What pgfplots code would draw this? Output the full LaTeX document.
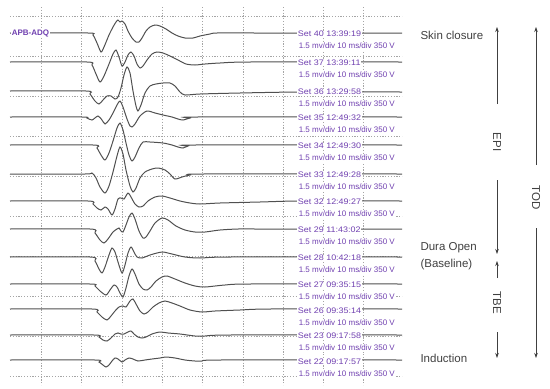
\documentclass[border=0pt]{standalone}
\usepackage{pgfplots}
\pgfplotsset{compat=1.18}
\usepackage{fontspec}
\setmainfont{Liberation Sans}
\usetikzlibrary{arrows.meta}
\definecolor{lab}{RGB}{112,64,176}
\definecolor{trace}{RGB}{80,80,80}
\definecolor{gridc}{RGB}{165,165,165}
\tikzset{lbl/.style={font=\fontsize{8}{9}\selectfont, text=lab, fill=white, inner sep=0.6pt, anchor=west},
  lbla/.style={lbl, xscale=1.12},
  arr/.style={-{Stealth[length=5pt,width=3.5pt]}}}
\pgfplotsset{tr/.style={color=trace, line width=1pt, smooth, tension=0.45, mark=none, solid}}
\begin{document}
\begin{tikzpicture}
\begin{axis}[x=1pt, y=1pt, y dir=reverse, xmin=0, xmax=550, ymin=0, ymax=389,
  hide axis, clip=false]
\path (axis cs:0,0) rectangle (axis cs:550,389);
% grid
\begin{scope}[gridc, line width=0.6pt, dash pattern=on 1.2pt off 1.6pt]
\draw (axis cs:10,16) -- (axis cs:402,16);
\draw (axis cs:10,56) -- (axis cs:402,56);
\draw (axis cs:10,96) -- (axis cs:402,96);
\draw (axis cs:10,136) -- (axis cs:402,136);
\draw (axis cs:10,176) -- (axis cs:402,176);
\draw (axis cs:10,216) -- (axis cs:402,216);
\draw (axis cs:10,256) -- (axis cs:402,256);
\draw (axis cs:10,296) -- (axis cs:402,296);
\draw (axis cs:10,336) -- (axis cs:402,336);
\draw (axis cs:10,376) -- (axis cs:402,376);
\draw (axis cs:41,7) -- (axis cs:41,385);
\draw (axis cs:81,7) -- (axis cs:81,385);
\draw (axis cs:122,7) -- (axis cs:122,385);
\draw (axis cs:162,7) -- (axis cs:162,385);
\draw (axis cs:202,7) -- (axis cs:202,385);
\draw (axis cs:243,7) -- (axis cs:243,385);
\draw (axis cs:283,7) -- (axis cs:283,385);
\draw (axis cs:323,7) -- (axis cs:323,385);
\draw (axis cs:363,7) -- (axis cs:363,385);
\end{scope}
% Set 40
\addplot[tr] table[row sep=\\, x=x, y expr={33-\thisrow{d}}]{x d\\
10 0\\ 88 0\\ 93 -2\\ 97 -10\\ 101 -19\\ 104 -14\\ 109 -2\\ 113 6\\ 116 11\\ 118 13\\ 120 11\\ 122 12\\ 125 9\\ 128 2\\ 132 -5\\ 136 -9\\ 139 -9\\ 142 -5\\ 146 2\\ 150 6\\ 155 8\\ 160 7\\ 166 4\\ 172 0\\ 178 -3\\ 185 -5\\ 193 -5\\ 200 -3\\ 210 -1\\ 217 0\\ 260 0\\ 402 0\\};
% Set 37
\addplot[tr] table[row sep=\\, x=x, y expr={62-\thisrow{d}}]{x d\\
10 0\\ 87 0\\ 92 -3\\ 96 -12\\ 100 -20\\ 104 -14\\ 109 -2\\ 113 8\\ 116 12\\ 119 5\\ 122 -4\\ 125 0\\ 128 7\\ 131 10\\ 134 6\\ 137 -2\\ 140 -6\\ 143 -4\\ 147 2\\ 152 8\\ 157 10\\ 163 9\\ 170 6\\ 178 2\\ 186 -2\\ 195 -3\\ 205 -2\\ 220 -1\\ 250 0\\ 402 0\\};
% Set 36
\addplot[tr] table[row sep=\\, x=x, y expr={91-\thisrow{d}}]{x d\\
10 0\\ 86 0\\ 90 -3\\ 95 -10\\ 99 -13\\ 103 -9\\ 107 -5\\ 111 -5\\ 115 -8\\ 118 -6\\ 121 3\\ 124 16\\ 127 24\\ 130 18\\ 133 0\\ 136 -15\\ 138 -20\\ 141 -14\\ 145 -2\\ 150 5\\ 156 7\\ 163 8\\ 170 8\\ 175 5\\ 180 -1\\ 185 -4\\ 200 -3\\ 240 -2\\ 300 -1\\ 402 -1\\};
% Set 35
\addplot[tr] table[row sep=\\, x=x, y expr={117-\thisrow{d}}]{x d\\
10 0\\ 82 0\\ 87 -1\\ 92 -3\\ 98 1\\ 102 -3\\ 105 -7\\ 109 -3\\ 113 4\\ 117 12\\ 120 16\\ 123 10\\ 127 -2\\ 130 -9\\ 132 -10\\ 135 -7\\ 140 1\\ 147 6\\ 155 4\\ 163 2\\ 172 0\\ 178 -2\\ 183 -3\\ 190 -1\\ 197 0\\ 402 0\\};
% Set 34
\addplot[tr] table[row sep=\\, x=x, y expr={145-\thisrow{d}}]{x d\\
10 0\\ 93 0\\ 97 -3\\ 101 -10\\ 105 -15\\ 109 -8\\ 113 4\\ 117 17\\ 120 22\\ 123 15\\ 126 2\\ 129 -10\\ 132 -16\\ 135 -12\\ 139 -3\\ 143 3\\ 150 3\\ 163 2\\ 172 0\\ 178 -2\\ 183 -3\\ 188 -1\\ 195 0\\ 402 0\\};
% Set 33
\addplot[tr] table[row sep=\\, x=x, y expr={174-\thisrow{d}}]{x d\\
10 0\\ 85 0\\ 92 1\\ 96 -4\\ 100 -13\\ 105 -19\\ 109 -12\\ 113 2\\ 117 18\\ 120 27\\ 123 20\\ 126 4\\ 130 -12\\ 133 -18\\ 136 -14\\ 140 -4\\ 145 2\\ 152 5\\ 158 6\\ 165 4\\ 170 0\\ 175 -5\\ 182 -3\\ 190 -1\\ 203 0\\ 402 0\\};
% Set 32
\addplot[tr] table[row sep=\\, x=x, y expr={201-\thisrow{d}}]{x d\\
10 0\\ 88 0\\ 93 -3\\ 97 -7\\ 101 -9\\ 105 -6\\ 108 -8\\ 112 -14\\ 115 -8\\ 118 2\\ 121 3\\ 124 2\\ 128 8\\ 131 4\\ 135 -3\\ 139 -6\\ 143 -5\\ 148 0\\ 155 4\\ 162 5\\ 170 3\\ 180 0\\ 190 -2\\ 200 -3\\ 220 -2\\ 260 -1\\ 300 0\\ 402 0\\};
% Set 29
\addplot[tr] table[row sep=\\, x=x, y expr={229-\thisrow{d}}]{x d\\
10 0\\ 90 0\\ 95 -4\\ 100 -11\\ 104 -14\\ 108 -10\\ 113 -3\\ 117 0\\ 119 1\\ 121 -2\\ 123 -3\\ 126 4\\ 129 12\\ 132 16\\ 135 10\\ 139 -2\\ 143 -9\\ 146 -8\\ 150 -2\\ 155 6\\ 162 11\\ 168 9\\ 176 3\\ 185 -1\\ 195 -3\\ 205 -3\\ 220 -1\\ 238 0\\ 260 0\\ 402 0\\};
% Set 28
\addplot[tr] table[row sep=\\, x=x, y expr={257-\thisrow{d}}]{x d\\
10 0\\ 90 0\\ 95 -4\\ 99 -12\\ 102 -16\\ 105 -10\\ 109 2\\ 112 9\\ 115 5\\ 118 -5\\ 122 -16\\ 125 -8\\ 128 4\\ 131 10\\ 134 5\\ 137 0\\ 142 -1\\ 150 2\\ 157 4\\ 163 5\\ 172 3\\ 185 0\\ 200 -1\\ 230 0\\ 402 0\\};
% Set 27
\addplot[tr] table[row sep=\\, x=x, y expr={284-\thisrow{d}}]{x d\\
10 0\\ 90 0\\ 95 -2\\ 100 -7\\ 106 -11\\ 110 -6\\ 114 -1\\ 117 -3\\ 120 -9\\ 123 -13\\ 126 -4\\ 129 8\\ 132 15\\ 135 10\\ 139 0\\ 143 -5\\ 147 -6\\ 151 -3\\ 156 3\\ 162 7\\ 167 8\\ 175 5\\ 185 1\\ 195 -2\\ 205 -3\\ 225 -1\\ 250 0\\ 402 0\\};
% Set 26
\addplot[tr] table[row sep=\\, x=x, y expr={309-\thisrow{d}}]{x d\\
10 0\\ 92 0\\ 97 -3\\ 102 -8\\ 107 -11\\ 111 -7\\ 115 -2\\ 119 2\\ 123 3\\ 126 2\\ 130 8\\ 133 10\\ 136 5\\ 140 -2\\ 144 -5\\ 148 -3\\ 153 2\\ 159 6\\ 165 8\\ 172 6\\ 180 3\\ 190 -1\\ 202 -3\\ 215 -2\\ 240 -1\\ 270 0\\ 402 0\\};
% Set 23
\addplot[tr] table[row sep=\\, x=x, y expr={335-\thisrow{d}}]{x d\\
10 0\\ 94 0\\ 99 -2\\ 103 -5\\ 107 -6\\ 111 -3\\ 115 1\\ 118 2\\ 121 1\\ 124 1\\ 128 3\\ 131 4\\ 134 1\\ 138 -2\\ 142 -3\\ 146 -2\\ 152 1\\ 160 3\\ 168 2\\ 180 1\\ 195 -1\\ 205 -1\\ 230 0\\ 402 0\\};
% Set 22
\addplot[tr] table[row sep=\\, x=x, y expr={360-\thisrow{d}}]{x d\\
10 0\\ 95 0\\ 99 -2\\ 103 -5\\ 106 -7\\ 109 -5\\ 112 -1\\ 115 2\\ 118 1\\ 122 -2\\ 125 0\\ 129 2\\ 133 1\\ 138 -1\\ 145 0\\ 152 1\\ 160 2\\ 166 3\\ 175 2\\ 185 0\\ 195 -1\\ 202 -1\\ 220 0\\ 402 0\\};
% labels
\node[lbl, font=\fontsize{8}{9}\selectfont\bfseries] at (axis cs:11,33) {APB-ADQ};
\node[lbla] at (axis cs:297,34) {Set 40 13:39:19};
\node[lbl] at (axis cs:298,46) {1.5 mv/div 10 ms/div 350 V};
\node[lbla] at (axis cs:297,63) {Set 37 13:39:11};
\node[lbl] at (axis cs:298,75) {1.5 mv/div 10 ms/div 350 V};
\node[lbla] at (axis cs:297,92) {Set 36 13:29:58};
\node[lbl] at (axis cs:298,104) {1.5 mv/div 10 ms/div 350 V};
\node[lbla] at (axis cs:297,118) {Set 35 12:49:32};
\node[lbl] at (axis cs:298,130) {1.5 mv/div 10 ms/div 350 V};
\node[lbla] at (axis cs:297,146) {Set 34 12:49:30};
\node[lbl] at (axis cs:298,158) {1.5 mv/div 10 ms/div 350 V};
\node[lbla] at (axis cs:297,175) {Set 33 12:49:28};
\node[lbl] at (axis cs:298,187) {1.5 mv/div 10 ms/div 350 V};
\node[lbla] at (axis cs:297,202) {Set 32 12:49:27};
\node[lbl] at (axis cs:298,214) {1.5 mv/div 10 ms/div 350 V};
\node[lbla] at (axis cs:297,230) {Set 29 11:43:02};
\node[lbl] at (axis cs:298,242) {1.5 mv/div 10 ms/div 350 V};
\node[lbla] at (axis cs:297,258) {Set 28 10:42:18};
\node[lbl] at (axis cs:298,270) {1.5 mv/div 10 ms/div 350 V};
\node[lbla] at (axis cs:297,285) {Set 27 09:35:15};
\node[lbl] at (axis cs:298,297) {1.5 mv/div 10 ms/div 350 V};
\node[lbla] at (axis cs:297,311) {Set 26 09:35:14};
\node[lbl] at (axis cs:298,323) {1.5 mv/div 10 ms/div 350 V};
\node[lbla] at (axis cs:297,336) {Set 23 09:17:58};
\node[lbl] at (axis cs:298,348) {1.5 mv/div 10 ms/div 350 V};
\node[lbla] at (axis cs:297,362) {Set 22 09:17:57};
\node[lbl] at (axis cs:298,374) {1.5 mv/div 10 ms/div 350 V};
% right annotations
\begin{scope}[font=\fontsize{11.5}{13}\selectfont, text=black!75]
\node[anchor=west] at (axis cs:417,35) {Skin closure};
\node[anchor=west] at (axis cs:417,248) {Dura Open};
\node[anchor=west] at (axis cs:417,265) {(Baseline)};
\node[anchor=west] at (axis cs:417,358) {Induction};
\node[rotate=-90] at (axis cs:497,142) {EPI};
\node[rotate=-90] at (axis cs:497,303) {TBE};
\node[rotate=-90] at (axis cs:536,198) {TOD};
\end{scope}
\begin{scope}[black!75, line width=0.6pt]
\draw[arr] (axis cs:497,104) -- (axis cs:497,27);
\draw[arr] (axis cs:497,180) -- (axis cs:497,254);
\draw[arr] (axis cs:497,278) -- (axis cs:497,261);
\draw[arr] (axis cs:497,332) -- (axis cs:497,358);
\draw[arr] (axis cs:536,165) -- (axis cs:536,27);
\draw[arr] (axis cs:536,228) -- (axis cs:536,358);
\end{scope}
\end{axis}
\end{tikzpicture}
\end{document}
